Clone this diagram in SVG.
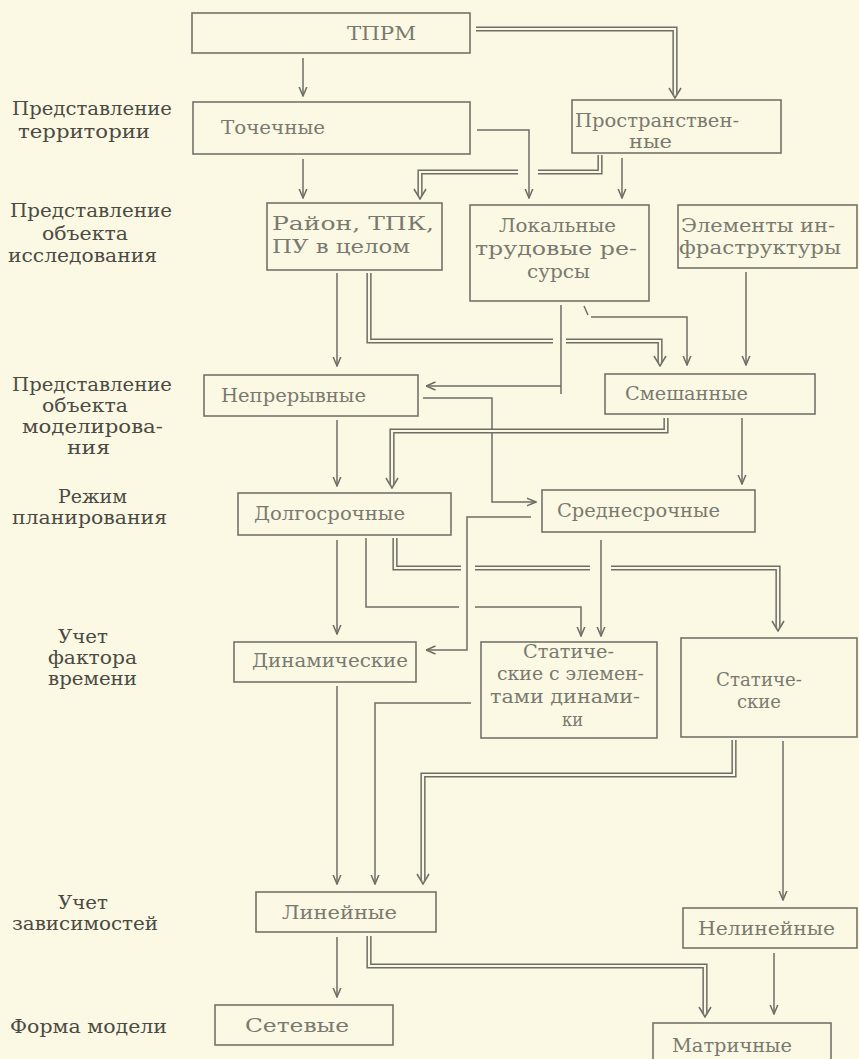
<svg xmlns="http://www.w3.org/2000/svg" width="859" height="1059" viewBox="0 0 859 1059">
<style>
.bg{fill:#FBF9E3}
.box{fill:none;stroke:#74736b;stroke-width:1.6}
.ln{fill:none;stroke:#6e6d66;stroke-width:1.5}
.dbo{fill:none;stroke:#6e6d66;stroke-width:5.2;stroke-linejoin:miter}
.dbi{fill:none;stroke:#FBF9E3;stroke-width:2.2;stroke-linejoin:miter}
text{font-family:'DejaVu Serif','Liberation Serif',serif;font-size:19px}
.bt{fill:#7a7971}
.lb{fill:#4b4a44}
</style>
<defs>
<marker id="ar" viewBox="0 0 10 10" refX="9.5" refY="5" markerWidth="10" markerHeight="10" markerUnits="userSpaceOnUse" orient="auto">
<path d="M0,1 L9.5,5 L0,9" fill="none" stroke="#6e6d66" stroke-width="1.5"/>
</marker>
<marker id="dar" viewBox="0 0 12 14" refX="7.5" refY="7" markerWidth="12" markerHeight="14" markerUnits="userSpaceOnUse" orient="auto">
<path d="M1,1 L11,7 L1,13" fill="none" stroke="#6e6d66" stroke-width="1.5"/>
</marker>
</defs>
<rect class="bg" x="0" y="0" width="859" height="1059"/>

<g id="labels" font-family="'DejaVu Serif','Liberation Serif',serif">
<text class="lb" x="12" y="115" textLength="160" lengthAdjust="spacingAndGlyphs">Представление</text>
<text class="lb" x="18" y="138" textLength="132" lengthAdjust="spacingAndGlyphs">территории</text>
<text class="lb" x="10" y="217" textLength="162" lengthAdjust="spacingAndGlyphs">Представление</text>
<text class="lb" x="42" y="240" textLength="86" lengthAdjust="spacingAndGlyphs">объекта</text>
<text class="lb" x="8" y="262" textLength="149" lengthAdjust="spacingAndGlyphs">исследования</text>
<text class="lb" x="12" y="391" textLength="160" lengthAdjust="spacingAndGlyphs">Представление</text>
<text class="lb" x="42" y="412" textLength="86" lengthAdjust="spacingAndGlyphs">объекта</text>
<text class="lb" x="22" y="433" textLength="141" lengthAdjust="spacingAndGlyphs">моделирова-</text>
<text class="lb" x="67" y="454" textLength="43" lengthAdjust="spacingAndGlyphs">ния</text>
<text class="lb" x="58" y="503" textLength="69" lengthAdjust="spacingAndGlyphs">Режим</text>
<text class="lb" x="12" y="524" textLength="155" lengthAdjust="spacingAndGlyphs">планирования</text>
<text class="lb" x="58" y="643" textLength="50" lengthAdjust="spacingAndGlyphs">Учет</text>
<text class="lb" x="48" y="664" textLength="89" lengthAdjust="spacingAndGlyphs">фактора</text>
<text class="lb" x="48" y="685" textLength="89" lengthAdjust="spacingAndGlyphs">времени</text>
<text class="lb" x="58" y="909" textLength="50" lengthAdjust="spacingAndGlyphs">Учет</text>
<text class="lb" x="12" y="930" textLength="146" lengthAdjust="spacingAndGlyphs">зависимостей</text>
<text class="lb" x="10" y="1033" textLength="157" lengthAdjust="spacingAndGlyphs">Форма модели</text>
</g>

<g id="connectors">
<path class="ln" marker-end="url(#ar)" d="M303,58 V96"/>
<path class="ln" marker-end="url(#ar)" d="M477,130 H529 V198"/>
<path class="ln" marker-end="url(#ar)" d="M303,159 V198"/>
<path class="ln" marker-end="url(#ar)" d="M622,158 V198"/>
<path class="ln" marker-end="url(#ar)" d="M337,273 V366"/>
<path class="ln" d="M561,305 V394"/>
<path class="ln" marker-end="url(#ar)" d="M561,386 H426"/>
<path class="ln" d="M584,306 L588,315"/>
<path class="ln" marker-end="url(#ar)" d="M591,317 H687 V365"/>
<path class="ln" marker-end="url(#ar)" d="M746,272 V365"/>
<path class="ln" marker-end="url(#ar)" d="M423,398 H492 V502 H536"/>
<path class="ln" marker-end="url(#ar)" d="M742,418 V484"/>
<path class="ln" marker-end="url(#ar)" d="M337,420 V486"/>
<path class="ln" marker-end="url(#ar)" d="M531,517 H467 V650 H426"/>
<path class="ln" marker-end="url(#ar)" d="M337,540 V634"/>
<path class="ln" d="M366,538 V607 H459"/>
<path class="ln" marker-end="url(#ar)" d="M475,607 H581 V636"/>
<path class="ln" marker-end="url(#ar)" d="M601,540 V636"/>
<path class="ln" marker-end="url(#ar)" d="M337,686 V884"/>
<path class="ln" marker-end="url(#ar)" d="M471,703 H375 V884"/>
<path class="ln" marker-end="url(#ar)" d="M783,741 V900"/>
<path class="ln" marker-end="url(#ar)" d="M337,937 V997"/>
<path class="ln" marker-end="url(#ar)" d="M774,953 V1014"/>
<path class="dbo" marker-end="url(#dar)" d="M476,29 H675 V94.5"/>
<path class="dbi" d="M476,29 H675 V94.5"/>
<path class="dbo" d="M600,155 V172 H538"/>
<path class="dbi" d="M600,155 V172 H538"/>
<path class="dbo" marker-end="url(#dar)" d="M518,172 H420 V195.5"/>
<path class="dbi" d="M518,172 H420 V195.5"/>
<path class="dbo" d="M369,273 V341 H553"/>
<path class="dbi" d="M369,273 V341 H553"/>
<path class="dbo" marker-end="url(#dar)" d="M566,341 H660 V362.5"/>
<path class="dbi" d="M566,341 H660 V362.5"/>
<path class="dbo" marker-end="url(#dar)" d="M666,418 V431 H392 V484.5"/>
<path class="dbi" d="M666,418 V431 H392 V484.5"/>
<path class="dbo" d="M395,538 V568 H461"/>
<path class="dbi" d="M395,538 V568 H461"/>
<path class="dbo" d="M475,568 H590"/>
<path class="dbi" d="M475,568 H590"/>
<path class="dbo" marker-end="url(#dar)" d="M611,568 H778 V627.5"/>
<path class="dbi" d="M611,568 H778 V627.5"/>
<path class="dbo" marker-end="url(#dar)" d="M734,740 V775 H423 V880.5"/>
<path class="dbi" d="M734,740 V775 H423 V880.5"/>
<path class="dbo" marker-end="url(#dar)" d="M369,936 V966 H705 V1013.5"/>
<path class="dbi" d="M369,936 V966 H705 V1013.5"/>
</g>

<g id="n-tprm"><rect class="box" x="192" y="13" width="278" height="40"/>
<text class="bt" x="347" y="40" textLength="69" lengthAdjust="spacingAndGlyphs">ТПРМ</text></g>
<g id="n-tochech"><rect class="box" x="193" y="102" width="277" height="52"/>
<text class="bt" x="221" y="134" textLength="104" lengthAdjust="spacingAndGlyphs">Точечные</text></g>
<g id="n-prostr"><rect class="box" x="572" y="100" width="209" height="53"/>
<text class="bt" x="575" y="127" textLength="164" lengthAdjust="spacingAndGlyphs">Пространствен-</text>
<text class="bt" x="629" y="148" textLength="43" lengthAdjust="spacingAndGlyphs">ные</text></g>
<g id="n-rayon"><rect class="box" x="267" y="203" width="175" height="67"/>
<text class="bt" x="272" y="230" textLength="162" lengthAdjust="spacingAndGlyphs">Район,  ТПК,</text>
<text class="bt" x="272" y="253" textLength="138" lengthAdjust="spacingAndGlyphs">ПУ в целом</text></g>
<g id="n-lokal"><rect class="box" x="470" y="205" width="179" height="96"/>
<text class="bt" x="499" y="232" textLength="117" lengthAdjust="spacingAndGlyphs">Локальные</text>
<text class="bt" x="475" y="255" textLength="162" lengthAdjust="spacingAndGlyphs">трудовые ре-</text>
<text class="bt" x="527" y="278" textLength="63" lengthAdjust="spacingAndGlyphs">сурсы</text></g>
<g id="n-elem"><rect class="box" x="678" y="205" width="179" height="63"/>
<text class="bt" x="681" y="232" textLength="154" lengthAdjust="spacingAndGlyphs">Элементы ин-</text>
<text class="bt" x="679" y="254" textLength="162" lengthAdjust="spacingAndGlyphs">фраструктуры</text></g>
<g id="n-nepr"><rect class="box" x="204" y="375" width="214" height="41"/>
<text class="bt" x="221" y="402" textLength="145" lengthAdjust="spacingAndGlyphs">Непрерывные</text></g>
<g id="n-smesh"><rect class="box" x="605" y="374" width="210" height="40"/>
<text class="bt" x="625" y="400" textLength="123" lengthAdjust="spacingAndGlyphs">Смешанные</text></g>
<g id="n-dolg"><rect class="box" x="238" y="493" width="213" height="42"/>
<text class="bt" x="254" y="520" textLength="151" lengthAdjust="spacingAndGlyphs">Долгосрочные</text></g>
<g id="n-sredn"><rect class="box" x="542" y="490" width="213" height="42"/>
<text class="bt" x="557" y="517" textLength="163" lengthAdjust="spacingAndGlyphs">Среднесрочные</text></g>
<g id="n-dinam"><rect class="box" x="234" y="642" width="182" height="40"/>
<text class="bt" x="252" y="667" textLength="156" lengthAdjust="spacingAndGlyphs">Динамические</text></g>
<g id="n-statel"><rect class="box" x="481" y="642" width="176" height="96"/>
<text class="bt" x="523" y="658" textLength="91" lengthAdjust="spacingAndGlyphs">Статиче-</text>
<text class="bt" x="497" y="680" textLength="147" lengthAdjust="spacingAndGlyphs">ские с элемен-</text>
<text class="bt" x="490" y="703" textLength="150" lengthAdjust="spacingAndGlyphs">тами динами-</text>
<text class="bt" x="562" y="726" textLength="21" lengthAdjust="spacingAndGlyphs">ки</text></g>
<g id="n-stat"><rect class="box" x="681" y="638" width="176" height="99"/>
<text class="bt" x="716" y="686" textLength="86" lengthAdjust="spacingAndGlyphs">Статиче-</text>
<text class="bt" x="737" y="708" textLength="44" lengthAdjust="spacingAndGlyphs">ские</text></g>
<g id="n-lin"><rect class="box" x="256" y="892" width="180" height="40"/>
<text class="bt" x="282" y="919" textLength="115" lengthAdjust="spacingAndGlyphs">Линейные</text></g>
<g id="n-nelin"><rect class="box" x="683" y="908" width="174" height="40"/>
<text class="bt" x="698" y="935" textLength="137" lengthAdjust="spacingAndGlyphs">Нелинейные</text></g>
<g id="n-setev"><rect class="box" x="215" y="1005" width="178" height="40"/>
<text class="bt" x="245" y="1032" textLength="104" lengthAdjust="spacingAndGlyphs">Сетевые</text></g>
<g id="n-matr"><rect class="box" x="653" y="1023" width="178" height="50"/>
<text class="bt" x="672" y="1052" textLength="120" lengthAdjust="spacingAndGlyphs">Матричные</text></g>
</svg>
